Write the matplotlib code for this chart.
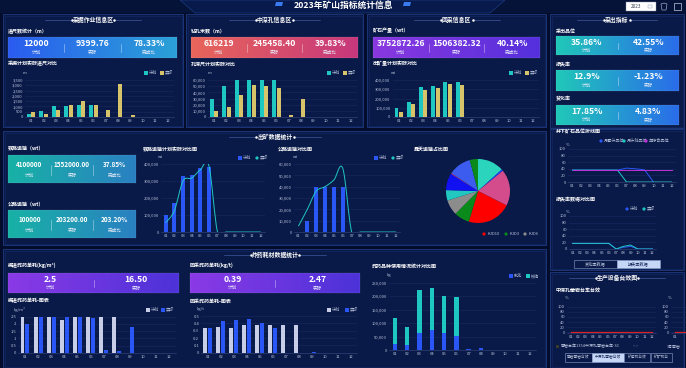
import numpy as np
import matplotlib
matplotlib.use("Agg")
import matplotlib.pyplot as plt
from matplotlib.patches import Rectangle, Circle, Polygon, PathPatch
from matplotlib.path import Path
from matplotlib.colors import LinearSegmentedColormap

plt.rcParams["font.family"] = ["Noto Sans CJK SC", "DejaVu Sans"]

# ----- palette -----------------------------------------------------------
BG = "#040c2c"
PANEL = "#0a1a48"
EDGE = "#1d3a80"
GRID = "#1a2a5e"
TICK = "#b8c2dc"
WHITE = "#ffffff"
TEAL = "#1fc7c3"
KHAKI = "#d6c36a"
BLUE = "#2a56f5"
LAV = "#c8cde8"
MAG = "#c030d8"

# ----- data --------------------------------------------------------------
months = ["01", "02", "03", "04", "05", "06", "07", "08", "09", "10", "11", "12"]

dig_plan = [300, 570, 1020, 1020, 1110, 1150, 0, 0, 0, 0, 0, 0]
dig_real = [450, 290, 700, 1110, 1560, 1150, 700, 3090, 190, 0, 0, 0]

hole_plan = [30000, 50000, 60000, 60000, 60000, 60000, 0, 0, 0, 0, 0, 0]
hole_real = [10000, 16400, 34900, 51800, 49600, 46900, 2700, 28900, 0, 0, 0, 0]

ore_plan = [100000, 167000, 327000, 338000, 378000, 378000, 0, 0, 0, 0, 0, 0]
ore_real = [51000, 138000, 291000, 313000, 356000, 342000, 0, 0, 0, 0, 0, 0]

rail_plan = [100000, 168000, 328000, 338000, 378000, 382000, 0, 0, 0, 0, 0, 0]
rail_real = [55000, 125000, 300000, 317000, 365000, 390000, 0, 0, 0, 0, 0, 0]

road_plan = [0, 10000, 40000, 40000, 40000, 40000, 0, 0, 0, 0, 0, 0]
road_real = [5200, 20000, 36000, 40000, 46000, 56000, 0, 0, 0, 0, 0, 0]

pie_names = ["KJD1", "KJD2", "KJD4", "KJD10", "KJD3", "KJD6", "KJD5", "KJD7", "KJD8", "KJD9", "KJD11"]
pie_vals = [48, 3, 66, 80, 28, 28, 19, 31, 1.5, 41, 15]
pie_cols = ["#2bd4bd", "#2040ff", "#d44c8c", "#ff0000", "#0a8a1a", "#8c8c8c",
            "#22c8c0", "#1010f0", "#e04080", "#3c5cf0", "#0a8a1a"]

grade_month = [36, 36, 36, 36, 36, 36, 42, 40, 37, 0, np.nan, np.nan]
grade_plan = [36, 36, 36, 36, 36, 36, 0, 0, 0, 0, 0, 0]
grade_year = [35, 35, 35, 35, 35, 35, 35, 35, 35, 35, 35, 35]

loss_plan = [17, 17, 17, 17, 17, 17, 0, 5, 8, 0, 0, 0]
loss_real = [17, 17, 17, 17, 17, 17, 0, 8, 12, 0, 0, 0]

equip_rate = [0, 0, 0, 0, 0, 0, 0, 0, 0, 0, 0, 0]

dev_plan = [2.5, 2.5, 2.5, 2.3, 2.5, 2.5, 2.5, 2.5, 0, 0, 0, 0]
dev_real = [2.0, 2.5, 2.5, 2.5, 2.45, 2.4, 0.2, 0.14, 1.8, 0, 0, 0]

stope_plan = [0.34, 0.35, 0.34, 0.38, 0.38, 0.38, 0.38, 0.38, 0, 0, 0, 0]
stope_real = [0.33, 0.43, 0.44, 0.46, 0.40, 0.34, 0, 0, 0.01, 0, 0, 0]

emul = [23500, 18600, 64400, 74300, 64400, 52000, 2500, 7400, 1200, 0, 0, 0]
anfo = [94100, 66800, 158400, 157100, 136100, 144800, 0, 0, 0, 0, 0, 0]

# ----- canvas ------------------------------------------------------------
W, H = 686, 368
fig = plt.figure(figsize=(6.86, 3.68), dpi=100)
fig.patch.set_facecolor(BG)
bg = fig.add_axes([0, 0, 1, 1])
bg.axis("off")


def chart_ax(x0, x1, ytop, ybot):
    return fig.add_axes([x0 / W, 1 - ybot / H, (x1 - x0) / W, (ybot - ytop) / H])


def txt(x, y, s, size=3.5, color=WHITE, ha="left", weight="normal"):
    bg.text(x, y, s, fontsize=size, color=color, ha=ha, va="center",
            fontweight=weight, zorder=6)


def panel(x, y, w, h, title=None, cx=None):
    bg.add_patch(Rectangle((x, y), w, h, facecolor=PANEL, edgecolor=EDGE, lw=0.6, zorder=1))
    bg.add_patch(Rectangle((x + 1.5, y + 1.5), w - 3, h - 3, facecolor="none",
                           edgecolor="#13296a", lw=0.4, zorder=1))
    if title:
        cx = x + w / 2 if cx is None else cx
        ty = y + 6
        txt(cx, ty, title, size=4.2, ha="center", weight="bold")
        half = len(title) * 2.6 + 4
        bg.plot([cx - half - 26, cx - half], [ty, ty], color="#4a6ab0", lw=0.4, zorder=5)
        bg.plot([cx + half, cx + half + 26], [ty, ty], color="#4a6ab0", lw=0.4, zorder=5)
        bg.plot([cx - half + 1, cx + half - 1], [ty, ty], ls="none", marker="o", ms=0.8,
                color=WHITE, markevery=[0, 1], zorder=5)


def kpi(x0, y0, x1, y1, c1, c2, values, labels, vsize=6.2):
    cmap = LinearSegmentedColormap.from_list("k", [c1, c2])
    bg.imshow(np.linspace(0, 1, 256).reshape(1, -1), cmap=cmap, aspect="auto",
              extent=(x0, x1, y1, y0), zorder=2)
    bg.add_patch(Rectangle((x0, y0), x1 - x0, y1 - y0, facecolor="none",
                           edgecolor="#ffffff30", lw=0.3, zorder=3))
    n = len(values)
    cw = (x1 - x0) / n
    hgt = y1 - y0
    for i, (v, lab) in enumerate(zip(values, labels)):
        cx = x0 + cw * (i + 0.5)
        txt(cx, y0 + hgt * 0.33, v, size=vsize, ha="center", weight="bold")
        txt(cx, y0 + hgt * 0.74, lab, size=3.3, ha="center", color="#e8ecf8")
        if i:
            bx = x0 + cw * i
            bg.plot([bx, bx], [y0 + hgt * 0.35, y0 + hgt * 0.7], color="#ffffffa0", lw=0.4, zorder=4)


def legend(items, y, kind="sq"):
    for x, color, lab in items:
        if kind == "sq":
            bg.add_patch(Rectangle((x - 2.2, y - 1.8), 4.4, 3.6, facecolor=color, zorder=6))
        else:
            bg.add_patch(Circle((x, y), 1.6, facecolor=color, zorder=6))
        txt(x + 3.2, y, lab, size=3.0, color=TICK)


def style(ax, ymax, step, fmt):
    ax.set_facecolor("none")
    ax.set_xlim(-0.5, 11.5)
    ax.set_ylim(0, ymax)
    ticks = np.arange(0, ymax + step / 2, step)
    ax.set_yticks(ticks)
    ax.set_yticklabels([fmt(t) for t in ticks])
    ax.set_xticks(range(12))
    ax.set_xticklabels(months)
    ax.tick_params(labelsize=3.0, colors=TICK, length=0, pad=1.5)
    for s in ("top", "right", "left"):
        ax.spines[s].set_visible(False)
    ax.spines["bottom"].set_color("#3a4a80")
    ax.spines["bottom"].set_linewidth(0.4)
    ax.grid(axis="y", color=GRID, lw=0.4)
    ax.set_axisbelow(True)


def comma(v):
    return f"{v:,.0f}"


def short(v):
    return f"{v:g}"


def pair_bars(ax, a, b, ca, cb, w=0.32, off=0.18):
    x = np.arange(12)
    ax.bar(x - off, a, w, color=ca, zorder=3)
    ax.bar(x + off, b, w, color=cb, zorder=3)


def smooth(ax, y, color, lw=0.7):
    pts = np.column_stack([np.arange(len(y)), np.asarray(y, float)])
    verts, codes = [pts[0]], [Path.MOVETO]
    n = len(pts)
    for i in range(n - 1):
        p0 = pts[i - 1] if i > 0 else pts[i]
        p1, p2 = pts[i], pts[i + 1]
        p3 = pts[i + 2] if i + 2 < n else pts[i + 1]
        verts += [p1 + (p2 - p0) / 6, p2 - (p3 - p1) / 6, p2]
        codes += [Path.CURVE4] * 3
    ax.add_patch(PathPatch(Path(verts, codes), fill=False, edgecolor=color, lw=lw, zorder=4))


# ----- header bar ------------------------------------------------------------
bg.add_patch(Rectangle((0, 0), W, 13, facecolor="#061338", zorder=0))
bg.add_patch(Polygon([[180, 0], [505, 0], [490, 13], [195, 13]], closed=True,
                     facecolor="#081a4c", edgecolor="#1d3a80", lw=0.5, zorder=1))
for px in (279, 407):
    bg.add_patch(Polygon([[px - 3, 2], [px + 4, 2], [px + 3, 6], [px - 4, 6]], closed=True,
                         facecolor="#3a7af0", zorder=2))
txt(343, 6.5, "2023年矿山指标统计信息", size=6.3, ha="center", weight="bold")
bg.add_patch(Rectangle((626, 2), 30, 9, facecolor=WHITE, edgecolor="#8090b0", lw=0.3, zorder=3))
txt(631, 6.5, "2023", size=3.3, color="#303848")
bg.add_patch(Rectangle((648, 4.5), 3.5, 3.5, facecolor="none", edgecolor="#8090b0", lw=0.3, zorder=4))
bg.add_patch(Polygon([[661, 4], [664, 3], [667, 4], [666, 10], [662, 10]], closed=True,
                     facecolor="none", edgecolor="#c0c8e0", lw=0.4, zorder=3))
bg.add_patch(Rectangle((674, 3), 7, 7, facecolor="none", edgecolor="#c0c8e0", lw=0.5, zorder=3))

# ----- panels ----------------------------------------------------------------
panel(3, 14, 180, 113, "采掘作业信息区")
panel(186, 14, 177, 113, "中深孔信息区")
panel(367, 14, 179, 113, "回采信息区")
panel(550, 14, 134, 114, "采出指标")
panel(550, 129, 134, 141)
panel(550, 272, 134, 96, "生产设备台效图")
panel(3, 131, 543, 114, "出矿数据统计", cx=275)
panel(3, 249, 543, 119, "炸药耗材数据统计", cx=275)

# ----- row 1 -----------------------------------------------------------------
txt(8, 31, "进尺数统计（m）", size=3.6, weight="bold")
kpi(8, 37, 177, 58, "#2a5cf0", "#2aa2d6", ["12000", "9399.76", "78.33%"], ["计划", "实际", "完成比"])
txt(8, 64, "采掘计划实际进尺对比", size=3.6, weight="bold")
txt(23, 73, "m", size=3, color=TICK)
legend([(146, TEAL, "计划"), (162, KHAKI, "实际")], 73)
ax = chart_ax(25, 174, 80, 117)
pair_bars(ax, dig_plan, dig_real, TEAL, KHAKI)
style(ax, 3500, 500, comma)

txt(191, 31, "钻孔米数（m）", size=3.6, weight="bold")
kpi(191, 37, 358, 58, "#e8665a", "#c6387c", ["616219", "245458.40", "39.83%"], ["计划", "实际", "完成比"])
txt(191, 64, "孔深尺计划实际对比", size=3.6, weight="bold")
txt(208, 73, "m", size=3, color=TICK)
legend([(329, TEAL, "计划"), (345, KHAKI, "实际")], 73)
ax = chart_ax(208, 357, 80, 117)
pair_bars(ax, hole_plan, hole_real, TEAL, KHAKI)
style(ax, 60000, 10000, comma)

txt(373, 31, "矿石产量（wt）", size=3.6, weight="bold")
kpi(373, 37, 540, 58, "#8a38e0", "#5430dc", ["3752872.26", "1506382.32", "40.14%"], ["计划", "实际", "完成比"])
txt(373, 64, "出矿量计划实际对比", size=3.6, weight="bold")
txt(391, 73, "wt", size=3, color=TICK)
legend([(511, TEAL, "计划"), (527, KHAKI, "实际")], 73)
ax = chart_ax(392.6, 539.4, 80, 117)
pair_bars(ax, ore_plan, ore_real, TEAL, KHAKI)
style(ax, 400000, 100000, comma)

# right column KPIs
for ly, (y0, y1), vals, lab in [
    (31.7, (36, 55), ["35.86%", "42.55%"], "采出品位"),
    (65, (70, 91), ["12.9%", "-1.23%"], "损失率"),
    (99, (105, 125), ["17.85%", "4.83%"], "贫化率"),
]:
    txt(556, ly, lab, size=3.6, weight="bold")
    kpi(556, y0, 679, y1, "#20c8b8", "#2a6cea", vals, ["计划", "实际"])

# ----- row 2 -----------------------------------------------------------------
txt(8, 148, "铁路运输（wt）", size=3.6, weight="bold")
kpi(8, 155, 136, 183, "#18b2a6", "#2a80c2", ["4100000", "1552000.00", "37.85%"],
    ["计划", "实际", "完成比"], vsize=4.6)
txt(8, 204, "公路运输（wt）", size=3.6, weight="bold")
kpi(8, 210, 136, 238, "#18b2a6", "#2a80c2", ["100000", "203200.00", "203.20%"],
    ["计划", "实际", "完成比"], vsize=4.6)

txt(143, 149, "铁路运输计划实际对比图", size=3.6, weight="bold")
txt(158, 157, "wt", size=3, color=TICK)
legend([(240, BLUE, "计划")], 158)
legend([(257, TEAL, "实际")], 158, kind="dot")
ax = chart_ax(161.4, 265, 164, 232)
ax.bar(np.arange(12), rail_plan, 0.45, color=BLUE, zorder=3)
smooth(ax, rail_real, TEAL)
style(ax, 400000, 100000, comma)

txt(278, 149, "公路运输对比图", size=3.6, weight="bold")
txt(293, 157, "wt", size=3, color=TICK)
legend([(376, BLUE, "计划")], 158)
legend([(393, TEAL, "实际")], 158, kind="dot")
ax = chart_ax(294, 400.5, 164, 232)
ax.bar(np.arange(12), road_plan, 0.45, color=BLUE, zorder=3)
smooth(ax, road_real, TEAL)
style(ax, 60000, 10000, comma)

txt(414, 149, "露天运输占比图", size=3.6, weight="bold")
ax = chart_ax(446, 510, 159, 223)
ax.pie(pie_vals, colors=pie_cols, startangle=90, counterclock=False,
       wedgeprops=dict(linewidth=0))
ax.set_xlim(-1.0, 1.0)
ax.set_ylim(-1.0, 1.0)
ax.set_aspect("equal")
legend([(484, "#ff0000", "KJD10"), (506, "#0a8a1a", "KJD3"), (525, "#8c8c8c", "KJD6")], 234, kind="dot")

# right middle: line charts
txt(556, 132, "井下矿石品位折线图", size=3.6, weight="bold")
legend([(601, BLUE, "月累计品位"), (624, TEAL, "月计划品位"), (646, MAG, "年综合品位")], 141, kind="dot")
txt(566, 145, "%", size=3, color=TICK)
ax = chart_ax(568, 676, 149, 182)
x = np.arange(12)
ax.plot(x, grade_month, color=BLUE, lw=0.7, zorder=4)
ax.plot(x, grade_plan, color=TEAL, lw=0.7, zorder=4)
ax.plot(x, grade_year, color=MAG, lw=0.7, zorder=4)
style(ax, 100, 20, short)

txt(556, 200, "损失率数据对比图", size=3.6, weight="bold")
legend([(627, BLUE, "计划"), (644, TEAL, "实际")], 209, kind="dot")
txt(566, 212, "%", size=3, color=TICK)
ax = chart_ax(569, 656, 216, 249)
ax.plot(x, loss_plan, color=BLUE, lw=0.7, zorder=4)
ax.plot(x, loss_real, color=TEAL, lw=0.7, zorder=4)
style(ax, 100, 20, short)

bg.add_patch(Rectangle((574, 260), 43, 8, facecolor="#0a1a48", edgecolor="#8aa0d0", lw=0.4, zorder=5))
bg.add_patch(Rectangle((617, 260), 43, 8, facecolor="#c6d6f6", edgecolor="#8aa0d0", lw=0.4, zorder=5))
txt(595.5, 264, "贫化率数据", size=3, ha="center", color=TICK)
txt(638.5, 264, "损失率数据", size=3, ha="center", color="#1a2a5a")

# right bottom: equipment
txt(556, 290, "中深孔凿岩台车台效", size=3.6, weight="bold")
txt(565, 298, "%", size=3, color=TICK)
txt(668, 298, "%", size=3, color=TICK)
ax = chart_ax(567, 656, 306.7, 332.7)
ax.plot(x, equip_rate, color="#e02020", lw=0.9, zorder=4)
style(ax, 100, 20, short)
ax.set_ylim(-1, 100)
ax = chart_ax(671, 760, 306.7, 332.7)
ax.plot(x, equip_rate, color="#e02020", lw=0.9, zorder=4)
style(ax, 100, 20, short)
ax.set_ylim(-1, 100)
ax.set_xticks([0])
ax.set_xticklabels(months[:1])
bg.add_patch(Rectangle((556, 344.5), 3, 3, facecolor="#3a3a2a", zorder=6))
txt(561, 346, "凿岩台车1354中深孔凿岩台车-SC", size=2.9, color=TICK)
txt(633, 346, "< >", size=2.8, color="#6a7090")
txt(667, 346, "3号凿岩", size=2.8, color=TICK)
for (bx0, bx1), lab, hi in [((565, 592), "凿岩凿岩台效", False), ((592, 624), "中深孔凿岩台效", True),
                            ((624, 650), "铲运机台效", False), ((651, 672), "铲矿机台", False)]:
    bg.add_patch(Rectangle((bx0, 353), bx1 - bx0, 8.5, facecolor="#c6d6f6" if hi else "#0a1a48",
                           edgecolor="#8aa0d0", lw=0.4, zorder=5))
    txt((bx0 + bx1) / 2, 357.3, lab, size=2.7, ha="center", color="#1a2a5a" if hi else TICK)

# ----- row 3 -----------------------------------------------------------------
txt(8, 265, "掘进炸药单耗(kg/m³)", size=3.6, weight="bold")
kpi(8, 273, 179, 293, "#8a3ae6", "#4c32d8", ["2.5", "16.50"], ["计划", "实际"])
txt(8, 301, "掘进炸药单耗-图表", size=3.6, weight="bold")
txt(14, 309, "kg/m³", size=3, color=TICK)
legend([(148, LAV, "计划"), (163, BLUE, "实际")], 310)
ax = chart_ax(18.4, 175.9, 316.7, 353)
pair_bars(ax, dev_plan, dev_real, LAV, BLUE, w=0.3, off=0.19)
style(ax, 2.5, 0.5, short)

txt(190, 265, "回采炸药单耗(kg/t)", size=3.6, weight="bold")
kpi(190, 273, 360, 293, "#8a3ae6", "#4c32d8", ["0.39", "2.47"], ["计划", "实际"])
txt(190, 301, "回采炸药单耗-图表", size=3.6, weight="bold")
txt(197, 309, "kg/t", size=3, color=TICK)
legend([(329, LAV, "计划"), (347, BLUE, "实际")], 310)
ax = chart_ax(201.2, 357.2, 316, 352.7)
pair_bars(ax, stope_plan, stope_real, LAV, BLUE, w=0.3, off=0.19)
style(ax, 0.5, 0.1, short)

txt(372, 266, "炸药品种使用情况统计对比图", size=3.6, weight="bold")
txt(387, 275, "kg", size=3, color=TICK)
legend([(511, BLUE, "乳化"), (528, TEAL, "铵油")], 276)
ax = chart_ax(388.9, 536.1, 282.7, 350)
ax.bar(x, emul, 0.35, color=BLUE, zorder=3)
ax.bar(x, anfo, 0.35, bottom=emul, color=TEAL, zorder=3)
style(ax, 250000, 50000, comma)

bg.set_xlim(0, W)
bg.set_ylim(H, 0)
fig.savefig("out.png", dpi=100, facecolor=BG)
